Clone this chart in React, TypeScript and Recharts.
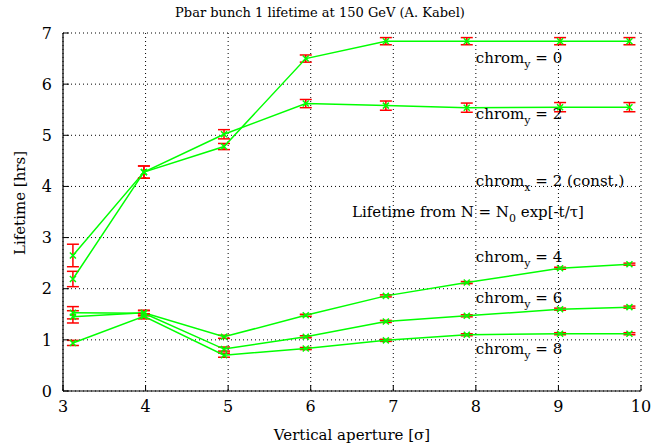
import React from "react";
import {
  CartesianGrid,
  ComposedChart,
  ErrorBar,
  Line,
  ReferenceDot,
  XAxis,
  YAxis,
} from "recharts";

const apertures = [3.12, 3.98, 4.95, 5.94, 6.91, 7.89, 9.02, 9.86];

const chrom0 = [2.65, 4.28, 4.78, 6.5, 6.84, 6.84, 6.84, 6.84];
const chrom0Err = [0.22, 0.12, 0.06, 0.07, 0.07, 0.07, 0.07, 0.07];
const chrom2 = [2.19, 4.28, 5.02, 5.62, 5.58, 5.54, 5.55, 5.55];
const chrom2Err = [0.15, 0.12, 0.09, 0.08, 0.09, 0.09, 0.09, 0.09];
const chrom4 = [1.45, 1.53, 1.06, 1.48, 1.86, 2.12, 2.4, 2.48];
const chrom4Err = [0.12, 0.05, 0.03, 0.02, 0.02, 0.02, 0.02, 0.02];
const chrom6 = [1.53, 1.52, 0.82, 1.06, 1.36, 1.47, 1.6, 1.64];
const chrom6Err = [0.12, 0.05, 0.04, 0.02, 0.02, 0.02, 0.02, 0.02];
const chrom8 = [0.94, 1.46, 0.7, 0.83, 0.99, 1.1, 1.12, 1.12];
const chrom8Err = [0.05, 0.05, 0.04, 0.02, 0.02, 0.02, 0.02, 0.02];

const xTicks = [3, 4, 5, 6, 7, 8, 9, 10];
const yTicks = [0, 1, 2, 3, 4, 5, 6, 7];

const seriesKeys = ["c0", "c2", "c4", "c6", "c8"];

const data = apertures.map((x, i) => ({
  x,
  c0: chrom0[i],
  c0e: chrom0Err[i],
  c2: chrom2[i],
  c2e: chrom2Err[i],
  c4: chrom4[i],
  c4e: chrom4Err[i],
  c6: chrom6[i],
  c6e: chrom6Err[i],
  c8: chrom8[i],
  c8e: chrom8Err[i],
}));

// text placed inside the plot (data coords of the text baseline start)
const notes = [
  { x: 8, y: 6.42, main: "chrom", sub: "y", rest: " = 0" },
  { x: 8, y: 5.32, main: "chrom", sub: "y", rest: " = 2" },
  { x: 8, y: 4.01, main: "chrom", sub: "x", rest: " = 2 (const.)" },
  { x: 6.5, y: 3.41, main: "Lifetime from N = N", sub: "0", rest: " exp[-t/\u03c4]" },
  { x: 8, y: 2.52, main: "chrom", sub: "y", rest: " = 4" },
  { x: 8, y: 1.72, main: "chrom", sub: "y", rest: " = 6" },
  { x: 8, y: 0.72, main: "chrom", sub: "y", rest: " = 8" },
];

const FONT = "DejaVu Serif, Noto Serif, serif";
const GREEN = "#00ff00";
const RED = "#ff0000";

const Cross = (props: any) => {
  const { cx, cy, index } = props;
  if (cx == null || cy == null) return <g key={index} />;
  const s = 3;
  return (
    <path
      key={index}
      d={`M${cx - s},${cy - s}L${cx + s},${cy + s}M${cx - s},${cy + s}L${cx + s},${cy - s}`}
      stroke={GREEN}
      strokeWidth={1.5}
      fill="none"
    />
  );
};

const noteShape = (n: (typeof notes)[number]) => (props: any) => (
  <text x={props.cx} y={props.cy} fontFamily={FONT} fontSize={15} fill="#000">
    {n.main}
    <tspan dy={5} fontSize={11}>
      {n.sub}
    </tspan>
    <tspan dy={-5}>{n.rest}</tspan>
  </text>
);

export default function App() {
  return (
    <div style={{ position: "absolute", left: 0, top: 0, width: 666, height: 447, background: "#fff", fontFamily: FONT }}>
      <div
        style={{
          position: "absolute",
          left: 0,
          top: 5,
          width: 640,
          textAlign: "center",
          fontFamily: FONT,
          fontSize: 13,
          lineHeight: "15px",
          color: "#000",
        }}
      >
        Pbar bunch 1 lifetime at 150 GeV (A. Kabel)
      </div>
      <ComposedChart
        width={666}
        height={447}
        data={data}
        margin={{ top: 33, right: 25, left: 0, bottom: 0 }}
        style={{ fontFamily: FONT }}
      >
        <CartesianGrid stroke="#000" strokeDasharray="1 3" strokeWidth={1} />
        <XAxis
          dataKey="x"
          type="number"
          domain={[3, 10]}
          ticks={xTicks}
          height={56}
          tickSize={-6}
          tickMargin={16}
          axisLine={{ stroke: "#000", strokeWidth: 1.2 }}
          tickLine={{ stroke: "#000" }}
          tick={{ fill: "#000", fontSize: 16, fontFamily: FONT }}
          label={{
            value: "Vertical aperture [\u03c3]",
            position: "insideBottom",
            offset: 7,
            fill: "#000",
            fontSize: 15,
            fontFamily: FONT,
          }}
        />
        <XAxis
          xAxisId="top"
          orientation="top"
          type="number"
          domain={[3, 10]}
          ticks={xTicks}
          height={0}
          tickSize={-6}
          tick={false}
          axisLine={{ stroke: "#000", strokeWidth: 1.2 }}
          tickLine={{ stroke: "#000" }}
        />
        <YAxis
          type="number"
          domain={[0, 7]}
          ticks={yTicks}
          width={63}
          tickSize={-6}
          tickMargin={17}
          axisLine={{ stroke: "#000", strokeWidth: 1.2 }}
          tickLine={{ stroke: "#000" }}
          tick={{ fill: "#000", fontSize: 16, fontFamily: FONT }}
          label={{
            content: () => (
              <text
                x={20}
                y={203}
                transform="rotate(-90 20 203)"
                textAnchor="middle"
                dominantBaseline="central"
                fontFamily={FONT}
                fontSize={15}
                fill="#000"
              >
                Lifetime [hrs]
              </text>
            ),
          }}
        />
        <YAxis
          yAxisId="right"
          orientation="right"
          type="number"
          domain={[0, 7]}
          ticks={yTicks}
          width={0}
          tickSize={-6}
          tick={false}
          axisLine={{ stroke: "#000", strokeWidth: 1.2 }}
          tickLine={{ stroke: "#000" }}
        />
        {seriesKeys.map((k) => (
          <Line
            key={k}
            dataKey={k}
            type="linear"
            stroke={GREEN}
            strokeWidth={1.5}
            dot={Cross}
            activeDot={false}
            isAnimationActive={false}
          >
            <ErrorBar dataKey={`${k}e`} width={6} stroke={RED} strokeWidth={1.5} direction="y" />
          </Line>
        ))}
        {notes.map((n, i) => (
          <ReferenceDot key={i} x={n.x} y={n.y} r={0} shape={noteShape(n)} />
        ))}
      </ComposedChart>
    </div>
  );
}
